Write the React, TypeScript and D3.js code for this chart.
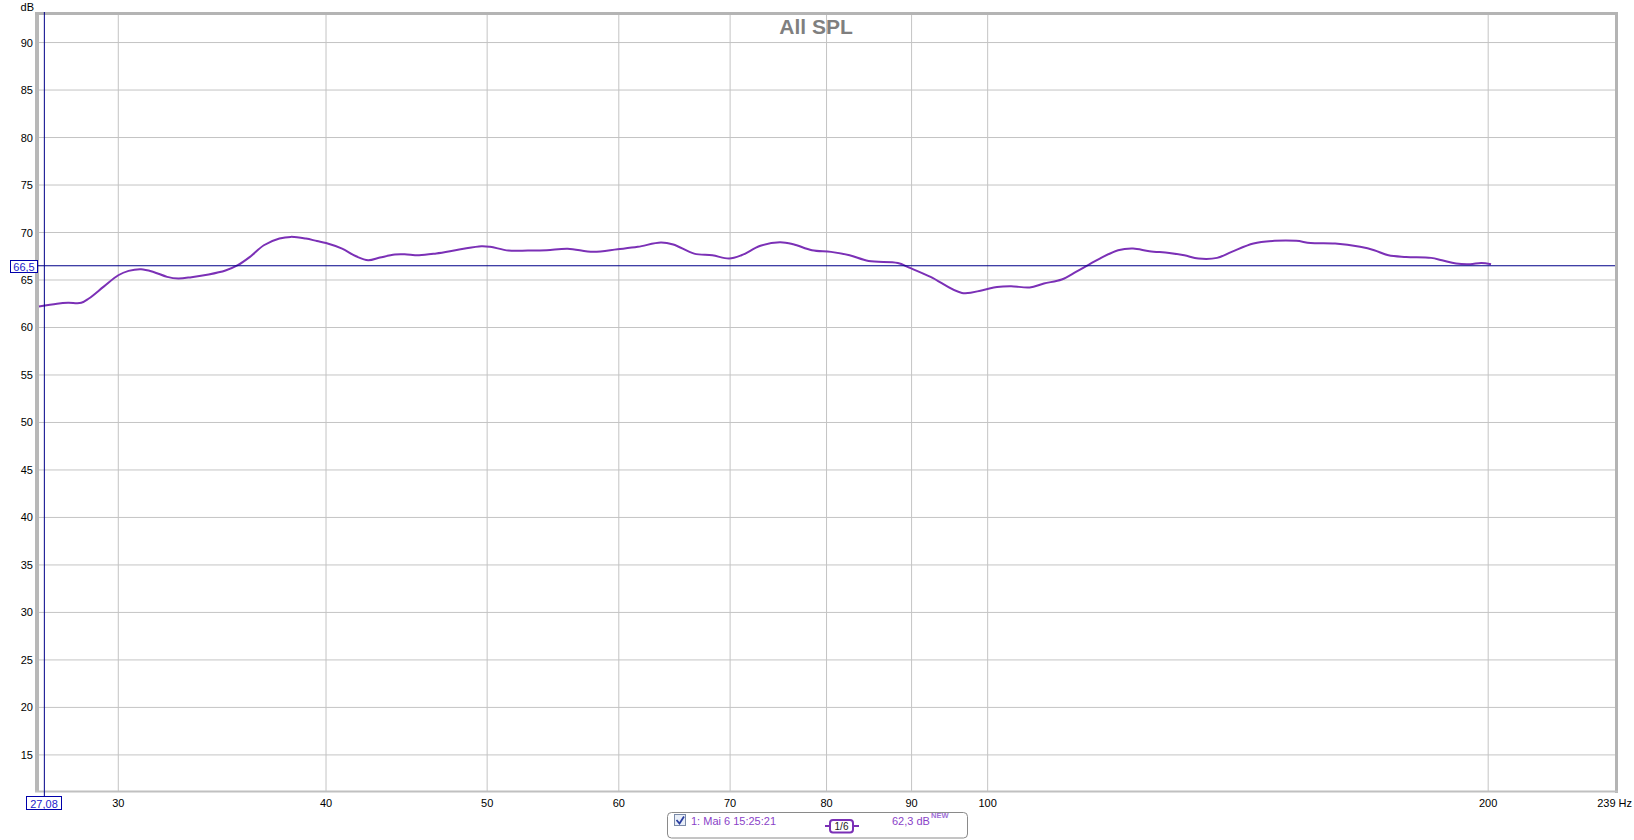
import React from "react";
import * as d3 from "d3";

const freqs = [26.88, 27.56, 27.98, 28.5, 28.8, 29.4, 30.0, 30.43, 30.96, 31.5, 32.1, 32.6, 33.2, 34.0, 34.8, 35.4, 36.0, 36.7, 37.5, 38.1, 38.9, 39.5, 40.0, 40.9, 41.7, 42.4, 43.1, 44.0, 44.6, 45.5, 46.6, 48.1, 49.6, 50.2, 51.5, 52.9, 54.3, 55.9, 57.9, 59.9, 61.6, 63.6, 64.7, 66.6, 68.3, 69.9, 71.1, 73.0, 75.0, 76.4, 78.4, 80.5, 82.6, 84.8, 88.3, 89.7, 92.4, 96.5, 99.3, 101.3, 103.3, 106.0, 108.1, 110.8, 113.0, 115.0, 116.8, 119.8, 122.3, 125.1, 128.6, 131.3, 133.9, 137.4, 140.2, 144.5, 148.8, 153.3, 156.4, 161.8, 167.5, 170.8, 174.2, 178.5, 184.8, 187.6, 191.3, 195.1, 198.1, 200.8];
const splDb = [62.2, 62.5, 62.6, 62.6, 63.05, 64.3, 65.5, 65.96, 66.14, 65.85, 65.33, 65.16, 65.3, 65.58, 66.0, 66.56, 67.43, 68.66, 69.36, 69.54, 69.36, 69.1, 68.9, 68.3, 67.5, 67.08, 67.36, 67.68, 67.7, 67.6, 67.8, 68.2, 68.56, 68.5, 68.1, 68.1, 68.14, 68.3, 67.97, 68.24, 68.49, 68.95, 68.74, 67.78, 67.6, 67.26, 67.6, 68.6, 68.98, 68.77, 68.14, 67.96, 67.6, 67.0, 66.8, 66.31, 65.33, 63.64, 63.93, 64.27, 64.35, 64.21, 64.63, 65.05, 65.85, 66.6, 67.26, 68.14, 68.32, 68.03, 67.85, 67.6, 67.26, 67.33, 67.96, 68.84, 69.12, 69.12, 68.9, 68.84, 68.49, 68.14, 67.6, 67.43, 67.33, 67.08, 66.73, 66.66, 66.8, 66.66];

const xTicks = [30, 40, 50, 60, 70, 80, 90, 100, 200];
const yTicks = [15, 20, 25, 30, 35, 40, 45, 50, 55, 60, 65, 70, 75, 80, 85, 90];
const xDomain = [26.88, 238.4];
const yDomain = [11.2, 92.9];
const cursorFreq = 27.08;
const cursorDb = 66.5;
const title = "All SPL";
const legendName = "1: Mai 6 15:25:21";
const legendLevel = "62,3 dB";

export default function App() {
  const W = 1634, H = 840;
  const left = 39, right = 1615, top = 15, bottom = 791;
  const x = d3.scaleLog().domain(xDomain).range([left, right]);
  const y = d3.scaleLinear().domain(yDomain).range([bottom, top]);
  const pts = freqs.map((f, i) => [x(f), y(splDb[i])] as [number, number]);
  const line = d3.line().curve(d3.curveCatmullRom.alpha(0.5))(pts) || "";
  const font = "'Liberation Sans', Arial, sans-serif";
  const cx = x(cursorFreq);
  const cy = y(cursorDb);
  const purple = "#7b30b6";
  return (
    <svg width={W} height={H} style={{ position: "absolute", left: 0, top: 0, background: "#fff" }} fontFamily={font}>
      <rect x={0} y={0} width={W} height={H} fill="#fff" />
      {yTicks.map((t) => (
        <line key={"gy" + t} x1={left} x2={right} y1={y(t)} y2={y(t)} stroke="#c4c4c4" strokeWidth={1} />
      ))}
      {xTicks.map((t) => (
        <line key={"gx" + t} x1={x(t)} x2={x(t)} y1={top} y2={bottom} stroke="#c4c4c4" strokeWidth={1} />
      ))}
      <line x1={left - 2} x2={left - 2} y1={top - 2} y2={bottom + 1} stroke="#b8b8b8" strokeWidth={4} />
      <line x1={left - 4} x2={right + 2} y1={top - 1.5} y2={top - 1.5} stroke="#b4b4b4" strokeWidth={3} />
      <line x1={right + 1.5} x2={right + 1.5} y1={top - 3} y2={bottom + 2} stroke="#b4b4b4" strokeWidth={3} />
      <line x1={left - 4} x2={right + 3} y1={bottom + 0.5} y2={bottom + 0.5} stroke="#c0c0c0" strokeWidth={2} />
      <text x={816} y={34} textAnchor="middle" fontSize={21} fontWeight="bold" fill="#7f7f7f">{title}</text>
      <text x={34} y={11} textAnchor="end" fontSize={11} fill="#000">dB</text>
      {yTicks.map((t) => (
        <text key={"ty" + t} x={33} y={y(t) + 4} textAnchor="end" fontSize={11} fill="#000">{t}</text>
      ))}
      {xTicks.map((t) => (
        <text key={"tx" + t} x={x(t)} y={807} textAnchor="middle" fontSize={11} fill="#000">{t}</text>
      ))}
      <text x={1632} y={807} textAnchor="end" fontSize={11} fill="#000">239 Hz</text>
      <path d={line} fill="none" stroke={purple} strokeWidth={2} strokeLinejoin="round" />
      <line x1={left - 1} x2={right} y1={cy} y2={cy} stroke="#000088" strokeWidth={1} />
      <line x1={cx} x2={cx} y1={top - 3} y2={796} stroke="#000088" strokeWidth={1} />
      <rect x={10.5} y={260.5} width={27} height={12} fill="#fff" stroke="#0000aa" strokeWidth={1} />
      <text x={24} y={270.5} textAnchor="middle" fontSize={11} fill="#2222cc">66,5</text>
      <rect x={26.5} y={796.5} width={35} height={13} fill="#fff" stroke="#0000aa" strokeWidth={1} />
      <text x={44} y={807.5} textAnchor="middle" fontSize={11} fill="#2222cc">27,08</text>
      <rect x={667.5} y={812.5} width={300} height={25.5} rx={4} fill="#fff" stroke="#8a8a8a" strokeWidth={1} />
      <rect x={674.5} y={814.5} width={11} height={11} fill="#e8eef8" stroke="#7a8aa8" strokeWidth={1} />
      <path d="M676.5,820 L679.5,823.5 L684,816.5" fill="none" stroke="#2a3ea0" strokeWidth={1.8} />
      <text x={691} y={825} fontSize={11} fill="#8a3fc8">{legendName}</text>
      <line x1={825} x2={859} y1={826} y2={826} stroke={purple} strokeWidth={2} />
      <rect x={830} y={820} width={23} height={12.5} rx={3} fill="#fff" stroke={purple} strokeWidth={2} />
      <text x={841.5} y={830} textAnchor="middle" fontSize={10} fill="#222">1/6</text>
      <text x={892} y={825} fontSize={11} fill="#8a3fc8">{legendLevel}</text>
      <text x={931} y={818} fontSize={7.5} fontWeight="bold" fill="#a070d8">NEW</text>
    </svg>
  );
}
